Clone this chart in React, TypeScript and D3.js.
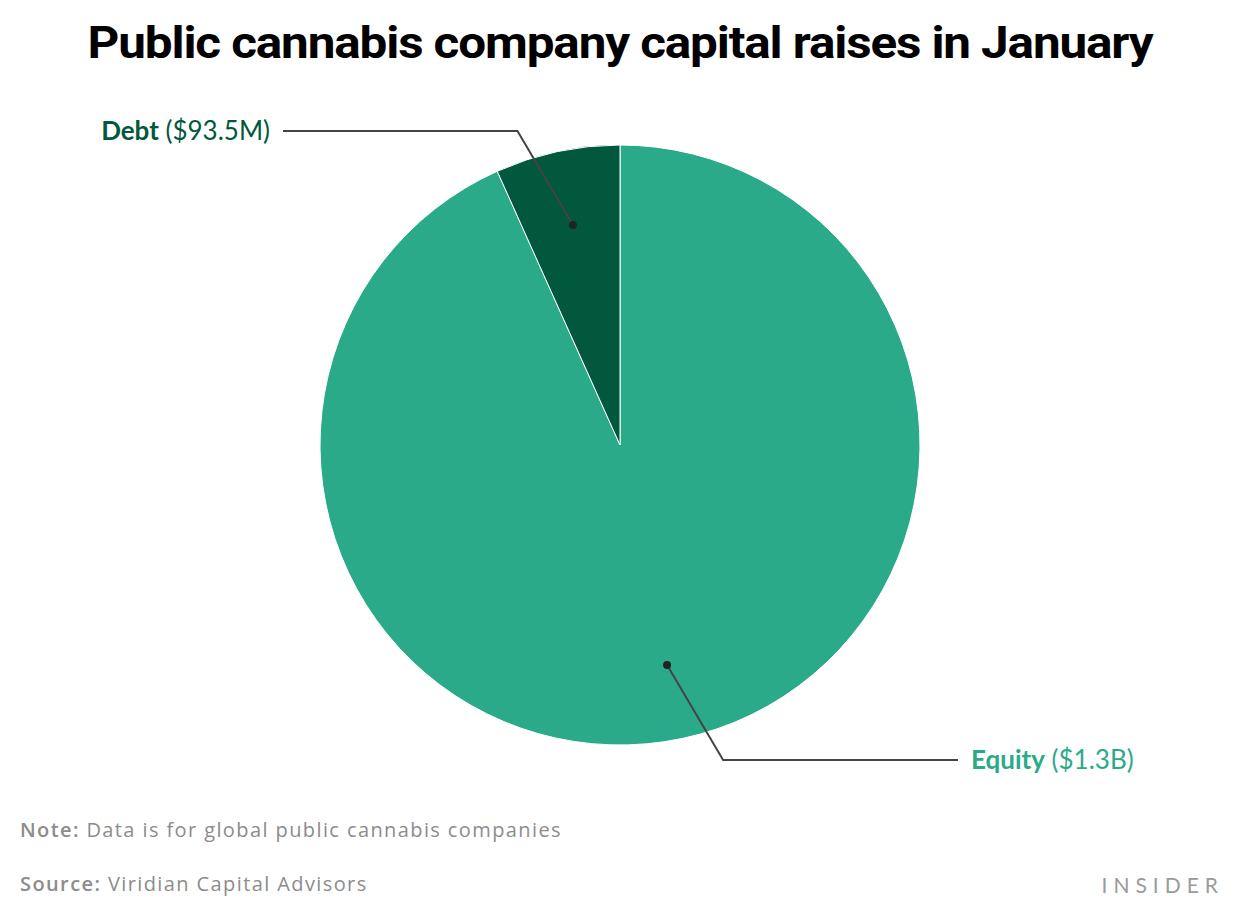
import React from "react";
import * as d3 from "d3";

const categories = ["Equity", "Debt"];
const values = [1300, 93.5];
const valueLabels = ["$1.3B", "$93.5M"];
const colors = ["#2BAA8A", "#02583D"];

const W = 1240;
const H = 920;
const cx = 620;
const cy = 445;
const R = 300;

export default function App() {
  const pie = d3.pie<number>().sort(null).value((d) => d)(values);
  const arc = d3.arc<d3.PieArcDatum<number>>().innerRadius(0).outerRadius(R);
  const dotArc = d3.arc<d3.PieArcDatum<number>>().innerRadius(R * 0.75).outerRadius(R * 0.75);

  const layouts = [
    { elbowY: 760, endX: 958, textX: 971, anchor: "start" },
    { elbowY: 131, endX: 283, textX: 270, anchor: "end" },
  ];

  return (
    <svg width={W} height={H} style={{ display: "block", position: "absolute", left: 0, top: 0 }} fontFamily="Roboto, 'Open Sans', sans-serif">
      <rect width={W} height={H} fill="#fff" />
      <text x={620} y={58} textAnchor="middle" fontSize={44} fontWeight={700} fill="#000" textLength={1065} lengthAdjust="spacingAndGlyphs" letterSpacing={-1}>
        Public cannabis company capital raises in January
      </text>
      <g transform={`translate(${cx},${cy})`}>
        {pie.map((p, i) => (
          <path key={i} d={arc(p) || ""} fill={colors[i]} stroke="#fff" strokeWidth={1} />
        ))}
      </g>
      {pie.map((p, i) => {
        const [dx, dy] = dotArc.centroid(p);
        const px = cx + dx;
        const py = cy + dy;
        const L = layouts[i];
        const elbowX = px + (L.elbowY - py) * 0.59;
        return (
          <g key={i}>
            <polyline points={`${px},${py} ${elbowX},${L.elbowY} ${L.endX},${L.elbowY}`} fill="none" stroke="#444" strokeWidth={2} />
            <circle cx={px} cy={py} r={4} fill="#222" />
            <text x={L.textX} y={L.elbowY + 9} textAnchor={L.anchor as any} fontSize={26} fill={colors[i]} fontFamily="Lato, sans-serif">
              <tspan fontWeight={700}>{categories[i]}</tspan>
              <tspan fontWeight={400}>{` (${valueLabels[i]})`}</tspan>
            </text>
          </g>
        );
      })}
      <text x={20} y={837} fontSize={20} fill="#8c8c8c" fontFamily="'Open Sans', sans-serif" letterSpacing={1.4}>
        <tspan fontWeight={600}>Note:</tspan>
        <tspan> Data is for global public cannabis companies</tspan>
      </text>
      <text x={20} y={891} fontSize={20} fill="#8c8c8c" fontFamily="'Open Sans', sans-serif" letterSpacing={1.4}>
        <tspan fontWeight={600}>Source:</tspan>
        <tspan> Viridian Capital Advisors</tspan>
      </text>
      <text x={1224} y={893} textAnchor="end" fontSize={21} fill="#9a9a9a" letterSpacing={6} fontFamily="Lato, sans-serif">
        INSIDER
      </text>
    </svg>
  );
}
